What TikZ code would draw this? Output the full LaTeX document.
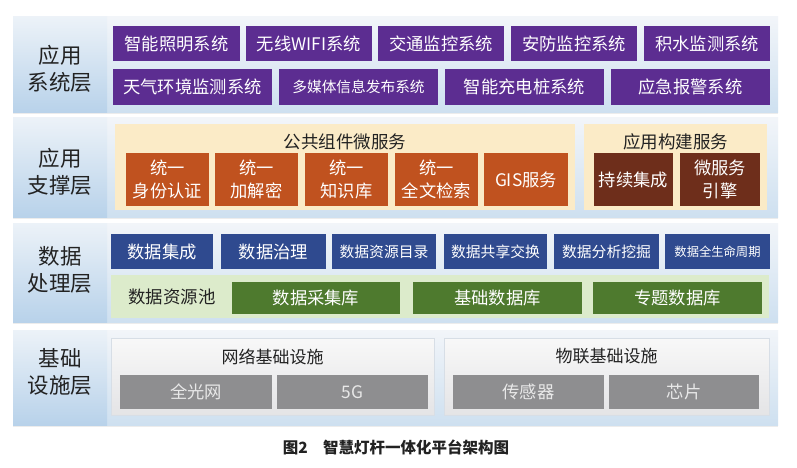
\documentclass[tikz,border=0pt]{standalone}
\usepackage{fontspec}
\setmainfont{Noto Sans CJK SC}
\usetikzlibrary{shadows}
\definecolor{purp}{HTML}{5C2D91}
\definecolor{orng}{HTML}{C0521F}
\definecolor{brwn}{HTML}{6E2E1B}
\definecolor{dblue}{HTML}{2F4A8F}
\definecolor{dgreen}{HTML}{4E7A2E}
\definecolor{lgreen}{HTML}{DCEBCB}
\definecolor{cream}{HTML}{FBEBC7}
\definecolor{gbox}{HTML}{8E8E90}
\definecolor{txt}{HTML}{222222}
\definecolor{ltop}{HTML}{F2F5F9}
\definecolor{lbot}{HTML}{CEE0F0}
\definecolor{gtop}{HTML}{ECF2F8}
\definecolor{gbot}{HTML}{B8D2EA}
\definecolor{wtop}{HTML}{F8F8F8}
\definecolor{wbot}{HTML}{E4E4E6}
\definecolor{wbrd}{HTML}{D7DEE6}
\definecolor{ytxt}{HTML}{E8E8E8}
\tikzset{
  outer/.style={draw=none, top color=ltop, bottom color=lbot, inner sep=0pt, drop shadow={shadow xshift=0pt, shadow yshift=-1.5pt, opacity=0.15}},
  lblbg/.style={draw=none, top color=gtop, bottom color=gbot, inner sep=0pt},
  lbl/.style={text=txt, align=center, font=\fontsize{21.5}{27}\selectfont, inner sep=0pt},
  bx/.style={inner sep=0pt, text=white, align=center, font=\fontsize{17.3}{23}\selectfont},
  pbox/.style={bx, fill=purp},
  obox/.style={bx, fill=orng},
  rbox/.style={bx, fill=brwn},
  bbox/.style={bx, fill=dblue},
  gbx/.style={bx, fill=dgreen},
  ybox/.style={bx, fill=gbox, text=ytxt},
  crm/.style={inner sep=0pt, fill=cream},
  wbox/.style={inner sep=0pt, top color=wtop, bottom color=wbot, draw=wbrd},
  ttl/.style={text=txt, inner sep=0pt, font=\fontsize{17.5}{22}\selectfont},
}
\begin{document}
\begin{tikzpicture}[x=1pt,y=-1pt]
\useasboundingbox (0,0) rectangle (797,468);
\fill[white] (0,0) rectangle (797,468);
% ---------- layer backgrounds
\node[outer, minimum width=765pt, minimum height=96pt] (L1) at (395.5,65) {};
\node[outer, minimum width=765pt, minimum height=99pt] (L2) at (395.5,167.5) {};
\node[outer, minimum width=765pt, minimum height=99pt] (L3) at (395.5,272.5) {};
\node[outer, minimum width=765pt, minimum height=95pt] (L4) at (395.5,377.5) {};
\node[lblbg, anchor=west, minimum width=94pt, minimum height=96pt] (G1) at (L1.west) {};
\node[lblbg, anchor=west, minimum width=94pt, minimum height=99pt] (G2) at (L2.west) {};
\node[lblbg, anchor=west, minimum width=94pt, minimum height=99pt] (G3) at (L3.west) {};
\node[lblbg, anchor=west, minimum width=94pt, minimum height=95pt] (G4) at (L4.west) {};
\node[lbl] (T1) at (60,68.5) {应用\\系统层};
\node[lbl] (T2) at (60,171.5) {应用\\支撑层};
\node[lbl] (T3) at (60,270) {数据\\处理层};
\node[lbl] (T4) at (60,371.5) {基础\\设施层};
% ---------- layer 1
\node[pbox, minimum width=127pt, minimum height=35pt] (a1) at (176.5,43.5) {智能照明系统};
\node[pbox, minimum width=126pt, minimum height=35pt] (a2) at (309,43.5) {无线WIFI系统};
\node[pbox, minimum width=126pt, minimum height=35pt] (a3) at (441,43.5) {交通监控系统};
\node[pbox, minimum width=126pt, minimum height=35pt] (a4) at (574,43.5) {安防监控系统};
\node[pbox, minimum width=126pt, minimum height=35pt] (a5) at (707,43.5) {积水监测系统};
\node[pbox, minimum width=159pt, minimum height=36pt] (b1) at (192.5,87) {天气环境监测系统};
\node[pbox, minimum width=159pt, minimum height=36pt, font=\fontsize{14.7}{18}\selectfont] (b2) at (358.5,87) {多媒体信息发布系统};
\node[pbox, minimum width=159pt, minimum height=36pt] (b3) at (524.5,87) {智能充电桩系统};
\node[pbox, minimum width=159pt, minimum height=36pt] (b4) at (690.5,87) {应急报警系统};
% ---------- layer 2
\node[crm, minimum width=460pt, minimum height=86pt] (C1) at (345,167) {};
\node[crm, minimum width=183pt, minimum height=86pt] (C2) at (675.5,167) {};
\node[ttl] (C1t) at (345,141.5) {公共组件微服务};
\node[ttl] (C2t) at (675.5,141.5) {应用构建服务};
\node[obox, minimum width=83pt, minimum height=53pt] (o1) at (167.5,179.5) {统一\\身份认证};
\node[obox, minimum width=83pt, minimum height=53pt] (o2) at (256.5,179.5) {统一\\加解密};
\node[obox, minimum width=83pt, minimum height=53pt] (o3) at (346.5,179.5) {统一\\知识库};
\node[obox, minimum width=83pt, minimum height=53pt] (o4) at (436.5,179.5) {统一\\全文检索};
\node[obox, minimum width=84pt, minimum height=53pt] (o5) at (526,179.5) {GIS服务};
\node[rbox, minimum width=79pt, minimum height=53pt] (r1) at (633.5,179.5) {持续集成};
\node[rbox, minimum width=80pt, minimum height=53pt] (r2) at (720,179.5) {微服务\\引擎};
% ---------- layer 3
\node[bbox, minimum width=102pt, minimum height=35pt] (d1) at (162,251.5) {数据集成};
\node[bbox, minimum width=105pt, minimum height=35pt] (d2) at (273.5,251.5) {数据治理};
\node[bbox, minimum width=104pt, minimum height=35pt, font=\fontsize{14.8}{18}\selectfont] (d3) at (384,251.5) {数据资源目录};
\node[bbox, minimum width=103pt, minimum height=35pt, font=\fontsize{14.8}{18}\selectfont] (d4) at (495.5,251.5) {数据共享交换};
\node[bbox, minimum width=105pt, minimum height=35pt, font=\fontsize{14.8}{18}\selectfont] (d5) at (606.5,251.5) {数据分析挖掘};
\node[bbox, minimum width=105pt, minimum height=35pt, font=\fontsize{12.3}{15}\selectfont] (d6) at (717.5,251.5) {数据全生命周期};
\node[inner sep=0pt, fill=lgreen, minimum width=658pt, minimum height=43pt] (P) at (440,296.5) {};
\node[ttl, font=\fontsize{17.4}{22}\selectfont] (Pt) at (172,297) {数据资源池};
\node[gbx, minimum width=168pt, minimum height=32pt] (e1) at (316,298) {数据采集库};
\node[gbx, minimum width=169pt, minimum height=32pt] (e2) at (497.5,298) {基础数据库};
\node[gbx, minimum width=169pt, minimum height=32pt] (e3) at (677.5,298) {专题数据库};
% ---------- layer 4
\node[wbox, minimum width=323pt, minimum height=77pt] (W1) at (272.5,376.5) {};
\node[wbox, minimum width=325pt, minimum height=77pt] (W2) at (606.5,376.5) {};
\node[ttl, font=\fontsize{17}{22}\selectfont] (W1t) at (272.5,356.5) {网络基础设施};
\node[ttl, font=\fontsize{17}{22}\selectfont] (W2t) at (606.5,356.5) {物联基础设施};
\node[ybox, minimum width=152pt, minimum height=34pt] (f1) at (196,392) {全光网};
\node[ybox, minimum width=151pt, minimum height=34pt] (f2) at (352.5,392) {5G};
\node[ybox, minimum width=151pt, minimum height=34pt] (f3) at (528.5,392) {传感器};
\node[ybox, minimum width=150pt, minimum height=34pt] (f4) at (684,392) {芯片};
% ---------- caption
\node[text=txt, inner sep=0pt, font=\fontsize{15.5}{19}\selectfont\bfseries] (cap) at (396,447) {图2\hspace{1em}智慧灯杆一体化平台架构图};
\end{tikzpicture}
\end{document}
